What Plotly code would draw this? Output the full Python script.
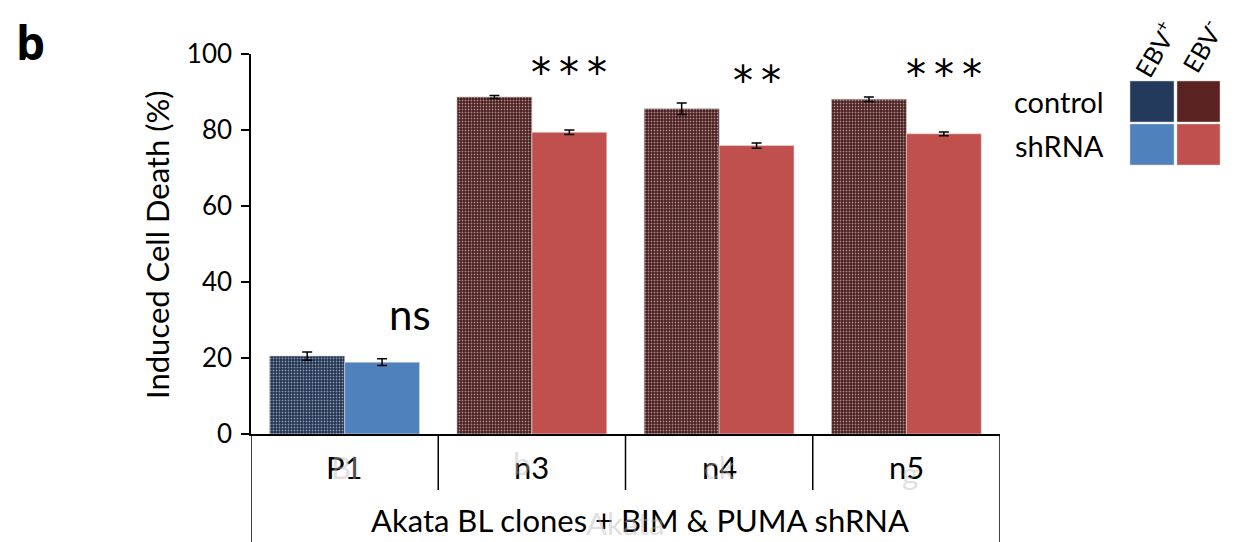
import plotly.graph_objects as go

categories = ["P1", "n3", "n4", "n5"]
control_vals = [20.5, 88.7, 85.6, 88.1]
control_err = [1.1, 0.4, 1.5, 0.6]
shrna_vals = [18.9, 79.4, 75.9, 79.0]
shrna_err = [0.9, 0.6, 0.7, 0.5]
sig_labels = ["ns", "***", "**", "***"]
y_ticks = [0, 20, 40, 60, 80, 100]

ctrl_bg = ["#1d3150", "#4a1a1a", "#4a1a1a", "#4a1a1a"]
ctrl_fg = ["#5b86c0", "#c45552", "#c45552", "#c45552"]
sh_col = ["#4F81BD", "#C0504D", "#C0504D", "#C0504D"]

FONT = "Lato"
W, H = 1240, 542
ml, mr, mt, mb = 251, 240, 54, 108
pw, ph = W - ml - mr, H - mt - mb


def px(x):
    return (x - ml) / pw


def py(y):
    return (H - mb - y) / ph


fig = go.Figure()
fig.add_trace(go.Bar(
    x=categories, y=control_vals, name="control",
    marker=dict(color=ctrl_bg,
                pattern=dict(shape=".", fgcolor=ctrl_fg, bgcolor=ctrl_bg, size=3, solidity=0.3, fillmode="overlay"),
                line=dict(color="#bbbbbb", width=0.6)),
    error_y=dict(type="data", array=control_err, color="black", thickness=1.5, width=5),
    showlegend=False))
fig.add_trace(go.Bar(
    x=categories, y=shrna_vals, name="shRNA",
    marker=dict(color=sh_col, line=dict(color="#dddddd", width=0.6)),
    error_y=dict(type="data", array=shrna_err, color="black", thickness=1.5, width=5),
    showlegend=False))

# significance labels
for i, (c, s) in enumerate(zip(categories, sig_labels)):
    top = max(control_vals[i] + control_err[i], shrna_vals[i] + shrna_err[i])
    if s == "ns":
        fig.add_annotation(x=i + 0.35, y=top + 3, xref="x", yref="y", text=s, showarrow=False,
                           yanchor="bottom", font=dict(family=FONT, size=42, color="black"))
    else:
        fig.add_annotation(x=i + 0.2, y=top, xref="x", yref="y", text="\u2009".join(s),
                           showarrow=False, yanchor="middle", yshift=22,
                           font=dict(family="DejaVu Sans", size=40, color="black"))

# category labels under axis
for i, c in enumerate(categories):
    fig.add_annotation(x=i, y=py(467), xref="x", yref="paper", text=c, showarrow=False,
                       yanchor="middle", font=dict(family=FONT, size=31, color="black"))
fig.add_annotation(x=px(640), y=py(520), xref="paper", yref="paper",
                   text="Akata BL clones + BIM & PUMA shRNA", showarrow=False,
                   xanchor="center", yanchor="middle", font=dict(family=FONT, size=31, color="black"))

# faint ghost artifacts present in the reference image
ghost = dict(family=FONT, size=31, color="rgba(185,185,185,0.45)")
for i, (g, dx, dy) in enumerate([("Bl", 0, 0), ("b", -10, -4), ("ck", 0, 0), ("g", 4, 6)]):
    fig.add_annotation(x=i, y=py(467 + dy), xref="x", yref="paper", text=g, showarrow=False,
                       xshift=dx, yanchor="middle", font=ghost)
fig.add_annotation(x=px(625), y=py(523), xref="paper", yref="paper", text="Akata", showarrow=False,
                   xanchor="center", yanchor="middle", font=ghost)

# table lines
line = dict(color="black", width=1.5)
for xp in [-0.5, 3.5]:
    fig.add_shape(type="line", xref="x", yref="paper", x0=xp, x1=xp, y0=0, y1=py(560), line=line)
for xp in [0.5, 1.5, 2.5]:
    fig.add_shape(type="line", xref="x", yref="paper", x0=xp, x1=xp, y0=0, y1=py(490), line=line)

# y title
fig.add_annotation(x=px(157), y=py(245), xref="paper", yref="paper", text="Induced Cell Death (%)",
                   textangle=-90, showarrow=False, xanchor="center", yanchor="middle",
                   font=dict(family=FONT, size=31, color="black"))

# panel letter
fig.add_annotation(x=px(30), y=py(42), xref="paper", yref="paper", text="<b>b</b>", showarrow=False,
                   xanchor="center", yanchor="middle",
                   font=dict(family="Open Sans", size=46, color="black"))

# legend drawn manually
sw = [
    (1130, 1174, 81, 122, "#233a5c"),
    (1177, 1220, 81, 122, "#5a2322"),
    (1130, 1174, 124, 165, "#4F81BD"),
    (1177, 1220, 124, 165, "#C0504D"),
]
for x0, x1, y0, y1, col in sw:
    fig.add_shape(type="rect", xref="paper", yref="paper", x0=px(x0), x1=px(x1), y0=py(y1), y1=py(y0),
                  fillcolor=col, line=dict(color="#cccccc", width=0.5))
fig.add_annotation(x=px(1106), y=py(101), xref="paper", yref="paper", text="control", showarrow=False,
                   xanchor="right", yanchor="middle", font=dict(family=FONT, size=29, color="black"))
fig.add_annotation(x=px(1106), y=py(145), xref="paper", yref="paper", text="shRNA", showarrow=False,
                   xanchor="right", yanchor="middle", font=dict(family=FONT, size=29, color="black"))
fig.add_annotation(x=px(1155), y=py(50), xref="paper", yref="paper", text="EBV<sup>+</sup>", showarrow=False,
                   textangle=-60, xanchor="center", yanchor="middle", font=dict(family=FONT, size=25, color="black"))
fig.add_annotation(x=px(1202), y=py(46), xref="paper", yref="paper", text="EBV<sup>-</sup>", showarrow=False,
                   textangle=-60, xanchor="center", yanchor="middle", font=dict(family=FONT, size=25, color="black"))

fig.update_layout(
    width=W, height=H,
    margin=dict(l=ml, r=mr, t=mt, b=mb),
    paper_bgcolor="white", plot_bgcolor="white",
    barmode="group", bargap=0.2, bargroupgap=0,
    font=dict(family=FONT, color="black"),
    xaxis=dict(range=[-0.5, 3.5], showticklabels=False, ticks="", showline=True,
               linecolor="black", linewidth=1.5, showgrid=False, zeroline=False),
    yaxis=dict(range=[0, 100], tickvals=y_ticks, ticks="outside", ticklen=8, tickwidth=1.5,
               tickcolor="black", showline=True, linecolor="black", linewidth=1.5,
               showgrid=False, zeroline=False, tickfont=dict(family=FONT, size=26),
               ticklabelstandoff=4),
)

fig.write_html("out.html")
